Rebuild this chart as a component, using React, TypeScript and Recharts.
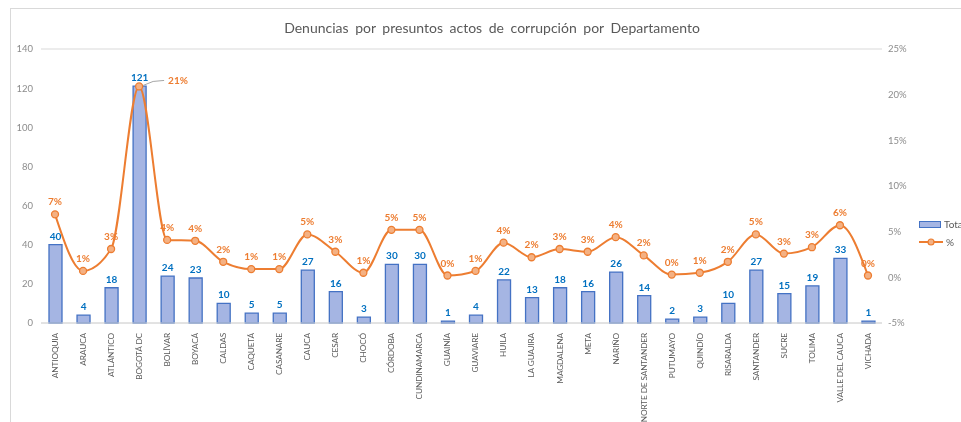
import React from 'react';
import {
  Bar,
  CartesianGrid,
  ComposedChart,
  LabelList,
  Legend,
  Line,
  XAxis,
  YAxis,
} from 'recharts';

const departamentos = [
  'ANTIOQUIA', 'ARAUCA', 'ATLÁNTICO', 'BOGOTÁ DC', 'BOLÍVAR', 'BOYACÁ', 'CALDAS', 'CAQUETÁ',
  'CASANARE', 'CAUCA', 'CESAR', 'CHOCÓ', 'CÓRDOBA', 'CUNDINAMARCA', 'GUAINÍA', 'GUAVIARE',
  'HUILA', 'LA GUAJIRA', 'MAGDALENA', 'META', 'NARIÑO', 'NORTE DE SANTANDER', 'PUTUMAYO',
  'QUINDÍO', 'RISARALDA', 'SANTANDER', 'SUCRE', 'TOLIMA', 'VALLE DEL CAUCA', 'VICHADA',
];

const totales = [
  40, 4, 18, 121, 24, 23, 10, 5, 5, 27, 16, 3, 30, 30, 1, 4,
  22, 13, 18, 16, 26, 14, 2, 3, 10, 27, 15, 19, 33, 1,
];

// share of all complaints, as plotted on the right axis
const porcentajes = [
  0.069, 0.007, 0.031, 0.209, 0.041, 0.04, 0.017, 0.009, 0.009, 0.047, 0.028, 0.005, 0.052, 0.052, 0.002, 0.007,
  0.038, 0.022, 0.031, 0.028, 0.044, 0.024, 0.003, 0.005, 0.017, 0.047, 0.026, 0.033, 0.057, 0.002,
];

const leftTicks = [0, 20, 40, 60, 80, 100, 120, 140];
const rightTicks = [-0.05, 0, 0.05, 0.1, 0.15, 0.2, 0.25];

const data = departamentos.map((name, i) => ({
  name,
  total: totales[i],
  pct: porcentajes[i],
}));

const FONT = 'Lato, "Liberation Sans", sans-serif';
const BLUE = '#4472C4';
const ORANGE = '#ED7D31';

const pctText = (v: number) => `${Math.round(v * 100)}%`;

function DeptTick({ x, y, payload }: any) {
  return (
    <g transform={`translate(${x},${y + 2})`}>
      <text
        transform="rotate(-90)"
        textAnchor="end"
        dy="0.35em"
        fontSize={8.3}
        letterSpacing={-0.15}
        fontFamily={FONT}
        fill="#595959"
      >
        {payload.value}
      </text>
    </g>
  );
}

function PctLabel({ x, y, value, index }: any) {
  if (index === 3) {
    return (
      <g>
        <polyline
          points={`${x + 4},${y - 1} ${x + 14},${y - 5} ${x + 25},${y - 6}`}
          fill="none"
          stroke="#a6a6a6"
          strokeWidth={1}
        />
        <text x={x + 29} y={y - 2} fontSize={10} fontWeight="bold" fontFamily={FONT} fill={ORANGE}>
          {pctText(value)}
        </text>
      </g>
    );
  }
  return (
    <text x={x} y={y - 9} textAnchor="middle" fontSize={10} fontWeight="bold" fontFamily={FONT} fill={ORANGE}>
      {pctText(value)}
    </text>
  );
}

function LegendBox() {
  return (
    <div style={{ fontFamily: FONT, fontSize: 10, color: '#595959', whiteSpace: 'nowrap' }}>
      <div style={{ display: 'flex', alignItems: 'center', height: 14 }}>
        <span
          style={{
            display: 'inline-block',
            width: 20,
            height: 5,
            background: '#A5B5E3',
            border: `1px solid ${BLUE}`,
            marginRight: 3,
          }}
        />
        Total
      </div>
      <div style={{ display: 'flex', alignItems: 'center', height: 14, marginTop: 4 }}>
        <svg width={24} height={10} style={{ marginRight: 3 }}>
          <line x1={0} y1={5} x2={24} y2={5} stroke={ORANGE} strokeWidth={2} />
          <circle cx={12} cy={5} r={3} fill="#F4B183" stroke={ORANGE} strokeWidth={1.2} />
        </svg>
        %
      </div>
    </div>
  );
}

export default function App() {
  return (
    <div
      style={{
        position: 'fixed',
        left: 10,
        top: 8,
        width: 950,
        height: 413,
        borderLeft: '1px solid #d9d9d9',
        borderTop: '1px solid #d9d9d9',
        overflow: 'hidden',
      }}
    >
      <div
        style={{
          position: 'absolute',
          left: 0,
          width: 962,
          top: 10,
          textAlign: 'center',
          fontFamily: FONT,
          fontSize: 14,
          color: '#595959',
          wordSpacing: 3,
        }}
      >
        Denuncias por presuntos actos de corrupción por Departamento
      </div>
      <ComposedChart
        width={960}
        height={413}
        data={data}
        margin={{ top: 40, right: 44, bottom: 0, left: 0 }}
        barSize={13}
      >
        <CartesianGrid vertical={false} stroke="#d9d9d9" />
        <XAxis
          dataKey="name"
          interval={0}
          height={99}
          tick={<DeptTick />}
          tickLine={false}
          axisLine={{ stroke: '#d9d9d9' }}
        />
        <YAxis
          yAxisId="left"
          domain={[0, 140]}
          ticks={leftTicks}
          width={30}
          tickLine={false}
          tickSize={0}
          tickMargin={8}
          axisLine={false}
          tick={{ fontSize: 9.5, fill: '#8c8c8c', fontFamily: FONT }}
        />
        <YAxis
          yAxisId="right"
          orientation="right"
          domain={[-0.05, 0.25]}
          ticks={rightTicks}
          width={45}
          tickLine={false}
          tickSize={0}
          tickMargin={6}
          axisLine={false}
          tickFormatter={pctText}
          tick={{ fontSize: 9.5, fill: '#8c8c8c', fontFamily: FONT, textAnchor: 'start' }}
        />
        <Legend
          layout="vertical"
          align="center"
          verticalAlign="middle"
          wrapperStyle={{ left: 908, top: 208, width: 60 }}
          content={<LegendBox />}
        />
        <Bar
          yAxisId="left"
          dataKey="total"
          name="Total"
          fill="#A5B5E3"
          stroke={BLUE}
          strokeWidth={1.3}
          isAnimationActive={false}
        >
          <LabelList
            dataKey="total"
            position="top"
            offset={5}
            fill="#0070C0"
            fontSize={10}
            fontWeight="bold"
            fontFamily={FONT}
          />
        </Bar>
        <Line
          yAxisId="right"
          type="monotone"
          dataKey="pct"
          name="%"
          stroke={ORANGE}
          strokeWidth={2}
          dot={{ r: 3.5, fill: '#F4B183', stroke: ORANGE, strokeWidth: 1.3 }}
          isAnimationActive={false}
        >
          <LabelList dataKey="pct" content={<PctLabel />} />
        </Line>
      </ComposedChart>
    </div>
  );
}
